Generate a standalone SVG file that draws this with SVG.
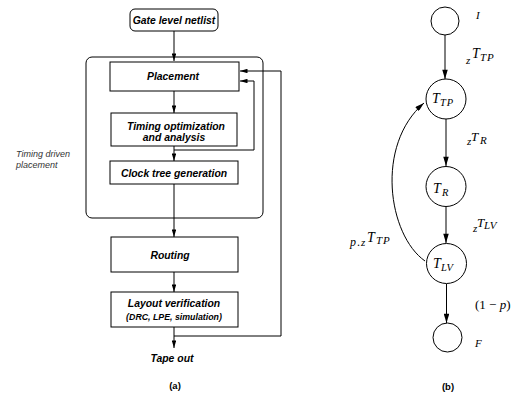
<svg xmlns="http://www.w3.org/2000/svg" width="520" height="400" viewBox="0 0 520 400">
<style>
.box{fill:#fff;stroke:#000;stroke-width:1}
.lbl{font-family:"Liberation Sans",Arial,sans-serif;font-weight:bold;font-style:italic;font-size:10.4px;fill:#000;text-anchor:middle}
.sm{font-size:8.8px}
.side{font-family:"Liberation Sans",Arial,sans-serif;font-style:italic;font-size:9px;fill:#333}
.cap{font-family:"Liberation Sans",Arial,sans-serif;font-weight:bold;font-size:9.5px;fill:#000;text-anchor:middle}
.c{fill:#fff;stroke:#000;stroke-width:1}
.m{font-family:"Liberation Serif","Times New Roman",serif;font-style:italic;fill:#000}
.r{font-family:"Liberation Serif","Times New Roman",serif;fill:#000}
.ln{fill:none;stroke:#000;stroke-width:1}
</style>
<defs>
<marker id="a" viewBox="0 0 10 6" refX="10" refY="3" markerWidth="8" markerHeight="4.5" markerUnits="userSpaceOnUse" orient="auto">
<path d="M0,0 L10,3 L0,6 Z" fill="#000"/>
</marker>
<marker id="b" viewBox="0 0 10 6" refX="10" refY="3" markerWidth="10" markerHeight="5.5" markerUnits="userSpaceOnUse" orient="auto">
<path d="M0,0 L10,3 L0,6 Z" fill="#000"/>
</marker>
</defs>

<!-- (a) flow -->
<g id="tdp">
<rect class="box" x="86" y="57" width="177" height="161" rx="6" fill="none"/>
<text class="side" x="16" y="157">Timing driven</text>
<text class="side" x="16" y="168">placement</text>
</g>
<g id="gate">
<rect class="box" x="130" y="9" width="88" height="22" rx="5"/>
<text class="lbl" x="174" y="24">Gate level netlist</text>
</g>
<g id="placement">
<rect class="box" x="110" y="62" width="129" height="29"/>
<text class="lbl" x="173" y="80">Placement</text>
</g>
<g id="timing">
<rect class="box" x="111" y="113" width="126" height="33"/>
<text class="lbl" x="176" y="130">Timing optimization</text>
<text class="lbl" x="174" y="141">and analysis</text>
</g>
<g id="clock">
<rect class="box" x="110" y="161" width="128" height="23"/>
<text class="lbl" x="174" y="177">Clock tree generation</text>
</g>
<g id="routing">
<rect class="box" x="111" y="237" width="127" height="35"/>
<text class="lbl" x="170" y="259">Routing</text>
</g>
<g id="layout">
<rect class="box" x="111" y="292" width="127" height="35"/>
<text class="lbl" x="174" y="307">Layout verification</text>
<text class="lbl sm" x="174" y="320">(DRC, LPE, simulation)</text>
</g>
<g id="tapeout">
<text class="lbl" x="172" y="362">Tape out</text>
</g>
<text class="cap" x="175" y="389">(a)</text>

<g id="connectors-a">
<path class="ln" d="M174,31 V61" marker-end="url(#a)"/>
<path class="ln" d="M174,91 V113" marker-end="url(#a)"/>
<path class="ln" d="M174,146 V161" marker-end="url(#a)"/>
<path class="ln" d="M174,150 H254 V81 H240" marker-end="url(#a)"/>
<path class="ln" d="M174,184 V237" marker-end="url(#a)"/>
<path class="ln" d="M174,272 V292" marker-end="url(#a)"/>
<path class="ln" d="M174,327 V348" marker-end="url(#a)"/>
<path class="ln" d="M174,336 H281 V71 H240" marker-end="url(#a)"/>
</g>

<!-- (b) graph -->
<g id="nI">
<circle class="c" cx="445" cy="21" r="14"/>
<text class="m" x="476" y="19" font-size="11">I</text>
</g>
<g id="nTTP">
<circle class="c" cx="446" cy="99" r="20"/>
<text class="m" x="432" y="103" font-size="14">T</text>
<text class="m" x="440" y="106" font-size="10.5" letter-spacing="1">TP</text>
</g>
<g id="nTR">
<circle class="c" cx="446" cy="186.5" r="20"/>
<text class="m" x="433" y="193" font-size="14">T</text>
<text class="m" x="442" y="196" font-size="10.5">R</text>
</g>
<g id="nTLV">
<circle class="c" cx="446.5" cy="263.5" r="20"/>
<text class="m" x="433" y="268" font-size="14">T</text>
<text class="m" x="441" y="271" font-size="10.5">LV</text>
</g>
<g id="nF">
<circle class="c" cx="447.5" cy="337.5" r="14.5"/>
<text class="m" x="475" y="347" font-size="11">F</text>
</g>

<g id="connectors-b">
<path class="ln" d="M445,35 V79" marker-end="url(#b)"/>
<path class="ln" d="M446,119 V166" marker-end="url(#b)"/>
<path class="ln" d="M446,207 V243" marker-end="url(#b)"/>
<path class="ln" d="M446.5,284 V323" marker-end="url(#b)"/>
<path class="ln" d="M425,261 C388,235 375,145 424,103" marker-end="url(#b)"/>
</g>

<g id="edge-labels">
<text class="m" x="466" y="64" font-size="11">z</text>
<text class="m" x="472" y="58" font-size="14">T</text>
<text class="m" x="480" y="61" font-size="11" letter-spacing="1">TP</text>

<text class="m" x="467" y="145" font-size="11">z</text>
<text class="m" x="471" y="141" font-size="13">T</text>
<text class="m" x="480" y="144" font-size="11">R</text>

<text class="m" x="473" y="232" font-size="11">z</text>
<text class="m" x="477" y="227" font-size="13">T</text>
<text class="m" x="484" y="229" font-size="11">LV</text>

<text class="m" x="350" y="246" font-size="12">p</text>
<text class="r" x="357" y="246" font-size="12">.</text>
<text class="m" x="361" y="246" font-size="11">z</text>
<text class="m" x="367" y="242" font-size="14">T</text>
<text class="m" x="376" y="244" font-size="11" letter-spacing="1">TP</text>

<text class="r" x="475" y="309" font-size="13">(1 − <tspan class="m">p</tspan>)</text>
</g>
<text class="cap" x="448" y="390">(b)</text>
</svg>
